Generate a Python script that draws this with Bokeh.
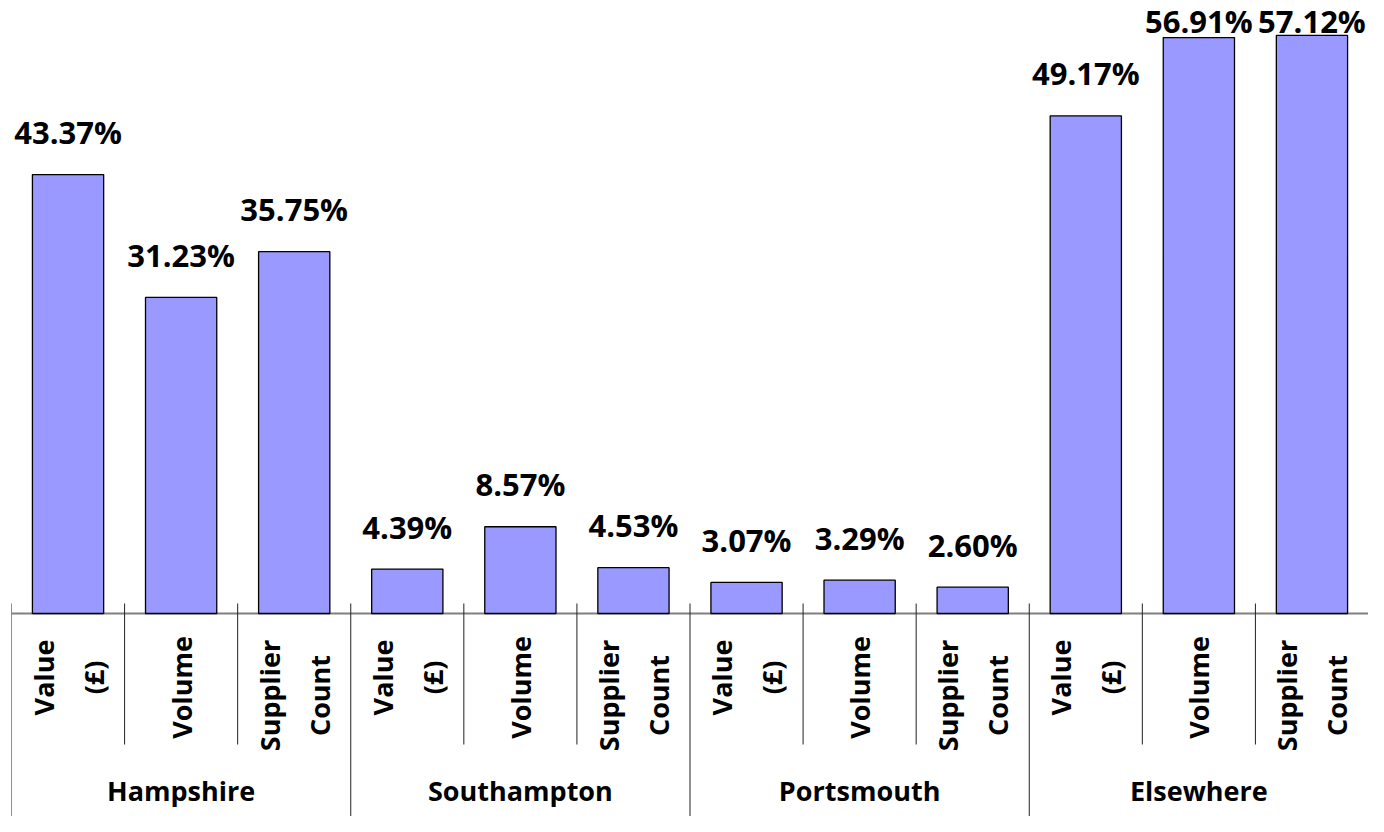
import numpy as np
from bokeh.plotting import figure
from bokeh.models import FactorRange, Range1d, ColumnDataSource
from bokeh.core.properties import value
from bokeh.embed import file_html
from bokeh.resources import INLINE

# ---------------- data ----------------
groups = ["Hampshire", "Southampton", "Portsmouth", "Elsewhere"]
measures = ["Value (£)", "Volume", "Supplier Count"]
measure_label_lines = [["Value", "(£)"], ["Volume"], ["Supplier", "Count"]]
value_share = [43.37, 4.39, 3.07, 49.17]      # % of value (£)
volume_share = [31.23, 8.57, 3.29, 56.91]     # % of volume
supplier_share = [35.75, 4.53, 2.60, 57.12]   # % of supplier count

# ---------------- layout / style ----------------
FIG_W, FIG_H = 1368, 816
PPU = 10.12            # pixels per percentage point
BASE_PX = 613          # baseline position from top of frame (px)
FONT = value("Open Sans")
BAR_COLOR = "#9999FF"

def px_to_y(px_from_top):
    return (BASE_PX - px_from_top) / PPU

y_top = px_to_y(0)
y_bottom = px_to_y(FIG_H)

series = [value_share, volume_share, supplier_share]
factors = [(g, m) for g in groups for m in measures]
tops = [series[j][i] for i in range(len(groups)) for j in range(len(measures))]

x_range = FactorRange(*factors, range_padding=0, group_padding=0,
                      subgroup_padding=0, factor_padding=0)

p = figure(width=FIG_W, height=FIG_H, x_range=x_range,
           y_range=Range1d(y_bottom, y_top),
           output_backend="svg", toolbar_location=None,
           min_border=0, min_border_left=11, min_border_right=0)
p.axis.visible = False
p.grid.visible = False
p.outline_line_color = None
p.background_fill_color = "white"

n = len(factors)

# baseline
p.segment(x0=[0], x1=[n], y0=[0], y1=[0], line_color="#808080", line_width=2)

# separators (ticks crossing the baseline, extending into label area)
bx, by0, by1 = [], [], []
for b in range(n + 1):
    bx.append(b)
    by0.append(px_to_y(603))
    by1.append(y_bottom if b % len(measures) == 0 else px_to_y(744))
p.segment(x0=bx, x1=bx, y0=by0, y1=by1, line_color="#222222", line_width=1)

# bars
src = ColumnDataSource(dict(x=factors, top=tops,
                            label=[f"{t:.2f}%" for t in tops],
                            ly=[min(t + 42.5 / PPU, px_to_y(20)) for t in tops]))
p.vbar(x="x", top="top", bottom=0, width=0.63, source=src,
       fill_color=BAR_COLOR, line_color="black", line_width=1.3)

# value labels
p.text(x="x", y="ly", text="label", source=src, text_font=FONT,
       text_font_style="bold", text_font_size="31px", text_color="black",
       text_align="center", text_baseline="middle")

# rotated category labels
centers_px = [677, 687, 695]   # vertical centre of each label block
lx, ly, lt, lo = [], [], [], []
for g in groups:
    for j, m in enumerate(measures):
        lines = measure_label_lines[j]
        k = len(lines)
        for li, line in enumerate(lines):
            lx.append((g, m))
            ly.append(px_to_y(centers_px[j]))
            lt.append(line)
            lo.append((li - (k - 1) / 2) * 50)
p.text(x=lx, y=ly, text=lt, x_offset=lo, angle=np.pi / 2,
       text_font=FONT, text_font_style="bold", text_font_size="27px",
       text_color="black", text_align="center", text_baseline="middle")

# group labels
p.text(x=[(g, measures[1]) for g in groups], y=[px_to_y(790)] * len(groups),
       text=groups, text_font=FONT, text_font_style="bold",
       text_font_size="27px", text_color="black",
       text_align="center", text_baseline="middle")

open("out.html", "w").write(file_html(p, INLINE))
